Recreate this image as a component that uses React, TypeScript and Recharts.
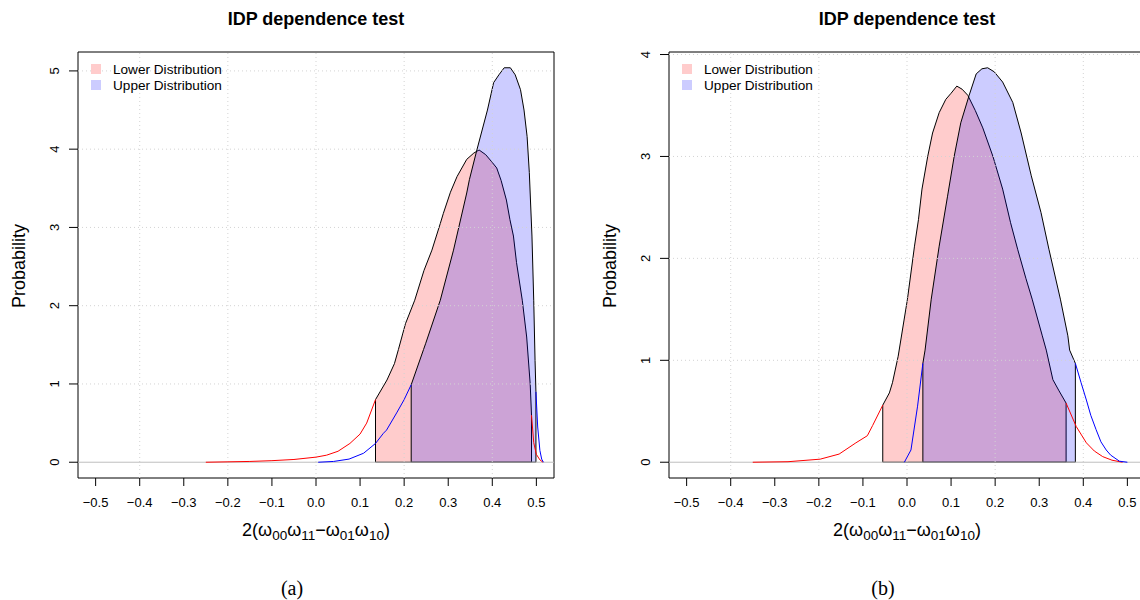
import React from 'react';
import { ComposedChart, Area, Line, XAxis, YAxis, ReferenceLine, ReferenceArea } from 'recharts';

const FONT = '"Liberation Sans", Arial, Helvetica, sans-serif';

const xTicks = [-0.5, -0.4, -0.3, -0.2, -0.1, 0, 0.1, 0.2, 0.3, 0.4, 0.5];
const xGrid = [-0.4, -0.2, 0, 0.2, 0.4];
const legendLabels = ['Lower Distribution', 'Upper Distribution'];

// panel (a)
const aYTicks = [0, 1, 2, 3, 4, 5];
const aYMax = 5.04;
const aLowerX = [-0.25, -0.2, -0.15, -0.1, -0.05, 0, 0.024, 0.05, 0.077, 0.1, 0.115, 0.135, 0.161, 0.178, 0.187, 0.203, 0.224, 0.245, 0.263, 0.282, 0.289, 0.305, 0.32, 0.342, 0.358, 0.37, 0.385, 0.4, 0.41, 0.42, 0.432, 0.44, 0.448, 0.455, 0.468, 0.478, 0.486, 0.489, 0.494, 0.5, 0.508, 0.515];
const aLowerY = [0, 0.005, 0.01, 0.02, 0.035, 0.065, 0.09, 0.14, 0.24, 0.36, 0.5, 0.8, 1.05, 1.26, 1.44, 1.77, 2.07, 2.45, 2.71, 3.05, 3.18, 3.45, 3.65, 3.87, 3.95, 3.99, 3.93, 3.83, 3.76, 3.6, 3.35, 3.1, 2.89, 2.55, 2.07, 1.6, 1.0, 0.6, 0.25, 0.1, 0.03, 0];
const aLowerCI = [0.135, 0.489];
const aUpperX = [0.005, 0.04, 0.075, 0.108, 0.135, 0.153, 0.16, 0.183, 0.2, 0.216, 0.244, 0.249, 0.282, 0.312, 0.342, 0.348, 0.365, 0.389, 0.403, 0.415, 0.427, 0.441, 0.452, 0.464, 0.472, 0.479, 0.484, 0.49, 0.494, 0.497, 0.499, 0.503, 0.508, 0.512, 0.516];
const aUpperY = [0, 0.01, 0.04, 0.115, 0.24, 0.37, 0.41, 0.63, 0.8, 0.99, 1.44, 1.52, 2.07, 2.71, 3.44, 3.61, 3.99, 4.5, 4.85, 4.95, 5.04, 5.04, 4.95, 4.76, 4.5, 4.16, 3.7, 2.89, 2.07, 1.3, 0.9, 0.45, 0.15, 0.04, 0];
const aUpperCI = [0.216, 0.499];

// panel (b)
const bYTicks = [0, 1, 2, 3, 4];
const bYMax = 3.87;
const bLowerX = [-0.35, -0.27, -0.197, -0.154, -0.116, -0.09, -0.078, -0.055, -0.04, -0.033, -0.02, 0.001, 0.017, 0.026, 0.034, 0.047, 0.058, 0.073, 0.088, 0.1, 0.113, 0.125, 0.138, 0.155, 0.172, 0.195, 0.217, 0.235, 0.251, 0.27, 0.284, 0.307, 0.316, 0.331, 0.345, 0.361, 0.384, 0.407, 0.425, 0.444, 0.465, 0.489];
const bLowerY = [0, 0.005, 0.03, 0.08, 0.19, 0.26, 0.36, 0.56, 0.68, 0.78, 1.04, 1.6, 2.12, 2.38, 2.68, 3.0, 3.23, 3.43, 3.56, 3.62, 3.69, 3.66, 3.6, 3.45, 3.28, 3.0, 2.68, 2.35, 2.09, 1.8, 1.6, 1.24, 1.1, 0.81, 0.7, 0.58, 0.35, 0.19, 0.11, 0.055, 0.02, 0];
const bLowerCI = [-0.055, 0.361];
const bUpperX = [-0.006, 0.009, 0.024, 0.036, 0.041, 0.055, 0.073, 0.092, 0.107, 0.122, 0.141, 0.157, 0.17, 0.183, 0.198, 0.217, 0.24, 0.259, 0.282, 0.304, 0.322, 0.348, 0.365, 0.369, 0.382, 0.395, 0.407, 0.417, 0.429, 0.44, 0.452, 0.462, 0.472, 0.482, 0.5];
const bUpperY = [0, 0.12, 0.55, 0.97, 1.1, 1.6, 2.12, 2.61, 3.0, 3.33, 3.6, 3.81, 3.86, 3.87, 3.83, 3.73, 3.53, 3.23, 2.81, 2.45, 2.09, 1.6, 1.24, 1.1, 0.97, 0.78, 0.61, 0.46, 0.32, 0.2, 0.12, 0.07, 0.04, 0.01, 0];
const bUpperCI = [0.036, 0.382];

type Pt = { x: number; y: number };
const toPts = (xs: number[], ys: number[]): Pt[] => xs.map((x, i) => ({ x, y: ys[i] }));

// thin tails outside the interval + closed polygon for the interval
function split(xs: number[], ys: number[], ci: number[]) {
  const pts = toPts(xs, ys);
  const [lo, hi] = ci;
  const band = [{ x: lo, y: 0 }, ...pts.filter(p => p.x >= lo && p.x <= hi), { x: hi, y: 0 }, { x: lo, y: 0 }];
  return {
    left: pts.filter(p => p.x <= lo),
    right: pts.filter(p => p.x >= hi),
    band,
  };
}

const fmtX = (v: number) => v.toFixed(1).replace('-', '\u2212');

const YTick = (props: any) => {
  const { x, y, payload } = props;
  const cx = x - 13;
  return (
    <text x={cx} y={y} transform={`rotate(-90, ${cx}, ${y})`} textAnchor="middle" dy="0.35em"
      fontSize={13} fontFamily={FONT} fill="#000">{payload.value}</text>
  );
};

const PLOT_L = 78, PLOT_T = 52, PLOT_W = 476, PLOT_H = 426;
const CW = 570, CH = 600, XAXIS_H = 30;

function Panel({ left, tag, yMax, yTicks, lower, upper }: any) {
  const yDom = [-0.04 * yMax, yMax * 1.04];
  const lo = split(lower.x, lower.y, lower.ci);
  const up = split(upper.x, upper.y, upper.ci);
  const colors = ['#ff0000', '#0000ff'];
  return (
    <div style={{ position: 'absolute', left, top: 0, width: CW, height: CH }}>
      <ComposedChart width={CW} height={CH}
        margin={{ top: PLOT_T, right: CW - PLOT_L - PLOT_W, bottom: CH - PLOT_T - PLOT_H - XAXIS_H, left: 0 }}>
        <XAxis type="number" dataKey="x" domain={[-0.54, 0.54]} allowDataOverflow ticks={xTicks} interval={0}
          tickFormatter={fmtX} axisLine={false} tickSize={8} tickMargin={12} height={XAXIS_H}
          tickLine={{ stroke: '#000' }} tick={{ fontSize: 13, fill: '#000', fontFamily: FONT }} />
        <YAxis type="number" domain={yDom} allowDataOverflow ticks={yTicks} interval={0} width={PLOT_L}
          axisLine={false} tickSize={9} tickLine={{ stroke: '#000' }} tick={<YTick />} />
        {xGrid.map(v => (
          <ReferenceLine key={'gx' + v} x={v} stroke="#d3d3d3" strokeDasharray="1 3" />
        ))}
        {yTicks.filter((v: number) => v > 0).map((v: number) => (
          <ReferenceLine key={'gy' + v} y={v} stroke="#d3d3d3" strokeDasharray="1 3" />
        ))}
        <ReferenceLine y={0} stroke="#bebebe" />
        <Line data={lo.left} dataKey="y" type="linear" stroke={colors[0]} strokeWidth={1} dot={false} isAnimationActive={false} />
        <Line data={lo.right} dataKey="y" type="linear" stroke={colors[0]} strokeWidth={1} dot={false} isAnimationActive={false} />
        <Line data={up.left} dataKey="y" type="linear" stroke={colors[1]} strokeWidth={1} dot={false} isAnimationActive={false} />
        <Line data={up.right} dataKey="y" type="linear" stroke={colors[1]} strokeWidth={1} dot={false} isAnimationActive={false} />
        <Area data={lo.band} dataKey="y" type="linear" baseValue={0} fill={colors[0]} fillOpacity={0.2}
          stroke="#000" strokeWidth={1} isAnimationActive={false} />
        <Area data={up.band} dataKey="y" type="linear" baseValue={0} fill={colors[1]} fillOpacity={0.2}
          stroke="#000" strokeWidth={1} isAnimationActive={false} />
        <ReferenceArea x1={-0.54} x2={0.54} y1={yDom[0]} y2={yDom[1]} fill="none" fillOpacity={0}
          stroke="#000" strokeWidth={1} ifOverflow="visible" />
      </ComposedChart>

      <div style={{ position: 'absolute', left: PLOT_L, top: 7, width: PLOT_W, textAlign: 'center',
        fontWeight: 'bold', fontSize: 18, lineHeight: '24px', fontFamily: FONT }}>IDP dependence test</div>

      <div style={{ position: 'absolute', left: PLOT_L + 13, top: PLOT_T + 9, fontFamily: FONT, fontSize: 13.6 }}>
        {legendLabels.map((t, i) => (
          <div key={t} style={{ display: 'flex', alignItems: 'center', height: 16 }}>
            <span style={{ width: 10, height: 10, background: i === 0 ? '#ffcccc' : '#ccccff', marginRight: 12 }} />
            <span>{t}</span>
          </div>
        ))}
      </div>

      <div style={{ position: 'absolute', left: -41, top: 254, width: 120, height: 24, lineHeight: '24px',
        textAlign: 'center', fontSize: 18, fontFamily: FONT, transform: 'rotate(-90deg)' }}>Probability</div>

      <div style={{ position: 'absolute', left: PLOT_L, top: 518, width: PLOT_W, textAlign: 'center',
        fontSize: 18, lineHeight: '24px', fontFamily: FONT }}>
        2(ω<sub style={subStyle}>00</sub>ω<sub style={subStyle}>11</sub>−ω<sub style={subStyle}>01</sub>ω<sub style={subStyle}>10</sub>)
      </div>

      <div style={{ position: 'absolute', left: 262, top: 575, width: 60, textAlign: 'center',
        fontSize: 20, lineHeight: '26px', fontFamily: '"Liberation Serif", "Times New Roman", serif' }}>{tag}</div>
    </div>
  );
}

const subStyle: React.CSSProperties = { fontSize: 13.5, verticalAlign: 'baseline', position: 'relative', top: 4 };

export default function App() {
  return (
    <div style={{ position: 'absolute', left: 0, top: 0, width: 1140, height: 600, overflow: 'hidden', background: '#fff' }}>
      <Panel left={0} tag="(a)" yMax={aYMax} yTicks={aYTicks}
        lower={{ x: aLowerX, y: aLowerY, ci: aLowerCI }} upper={{ x: aUpperX, y: aUpperY, ci: aUpperCI }} />
      <Panel left={591} tag="(b)" yMax={bYMax} yTicks={bYTicks}
        lower={{ x: bLowerX, y: bLowerY, ci: bLowerCI }} upper={{ x: bUpperX, y: bUpperY, ci: bUpperCI }} />
    </div>
  );
}
